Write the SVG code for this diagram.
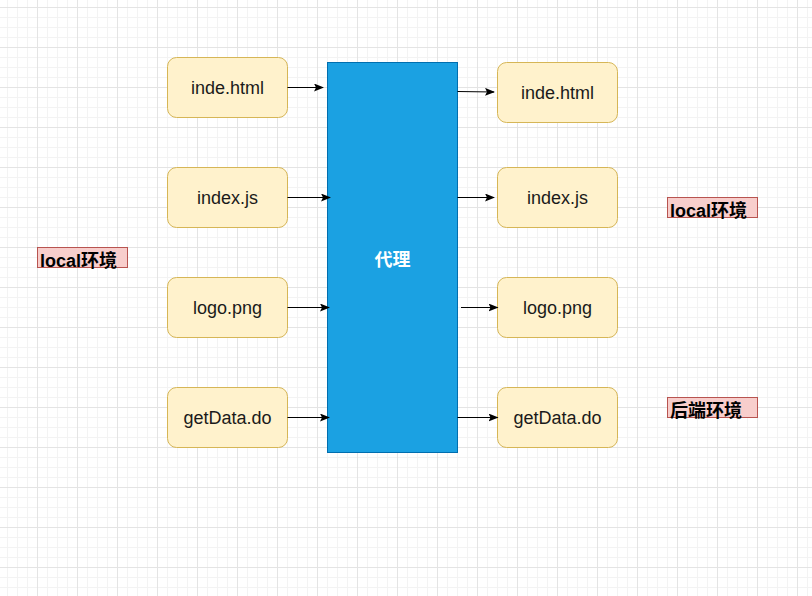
<svg xmlns="http://www.w3.org/2000/svg" width="812" height="596" viewBox="0 0 812 596">
<style>
.file rect{fill:#fff2cc;stroke:#d6b656;stroke-width:1}
.file text{font-family:"Liberation Sans","Noto Sans CJK SC",sans-serif;font-size:18px;fill:#1a1a1a;text-anchor:middle;dominant-baseline:central}
.tag rect{fill:#f8cecc;stroke:#b85450;stroke-width:1}
.tag text{font-family:"Liberation Sans","Noto Sans CJK SC",sans-serif;font-size:18px;font-weight:bold;fill:#000}
.conn line{stroke:#000;stroke-width:1;marker-end:url(#arr)}
</style>
<defs>
<pattern id="grid" x="-3" y="7" width="40" height="40" patternUnits="userSpaceOnUse">
<path d="M10.5 0V40M20.5 0V40M30.5 0V40M0 10.5H40M0 20.5H40M0 30.5H40" stroke="#f3f3f3" stroke-width="1" fill="none"/>
<path d="M0.5 0V40M0 0.5H40" stroke="#e4e4e4" stroke-width="1" fill="none"/>
</pattern>
<marker id="arr" viewBox="0 0 10 8" refX="9" refY="4" markerWidth="10" markerHeight="8" markerUnits="userSpaceOnUse" orient="auto">
<path d="M0 0L10 4L0 8L2 4Z" fill="#000"/>
</marker>
</defs>
<rect width="812" height="596" fill="#fff"/>
<rect width="812" height="596" fill="url(#grid)"/>

<g id="proxy">
<rect x="327.5" y="62.5" width="130" height="390" fill="#1ba1e2" stroke="#006eaf"/>
<text x="392.5" y="258" font-family="'Noto Sans CJK SC',sans-serif" font-size="18" font-weight="bold" fill="#fff" text-anchor="middle" dominant-baseline="central">代理</text>
</g>

<g id="l1" class="file"><rect x="167.5" y="57.5" width="120" height="60" rx="9"/><text x="227.5" y="87.5">inde.html</text></g>
<g id="l2" class="file"><rect x="167.5" y="167.5" width="120" height="60" rx="9"/><text x="227.5" y="197.5">index.js</text></g>
<g id="l3" class="file"><rect x="167.5" y="277.5" width="120" height="60" rx="9"/><text x="227.5" y="307.5">logo.png</text></g>
<g id="l4" class="file"><rect x="167.5" y="387.5" width="120" height="60" rx="9"/><text x="227.5" y="417.5">getData.do</text></g>

<g id="r1" class="file"><rect x="497.5" y="62.5" width="120" height="60" rx="9"/><text x="557.5" y="92.5">inde.html</text></g>
<g id="r2" class="file"><rect x="497.5" y="167.5" width="120" height="60" rx="9"/><text x="557.5" y="197.5">index.js</text></g>
<g id="r3" class="file"><rect x="497.5" y="277.5" width="120" height="60" rx="9"/><text x="557.5" y="307.5">logo.png</text></g>
<g id="r4" class="file"><rect x="497.5" y="387.5" width="120" height="60" rx="9"/><text x="557.5" y="417.5">getData.do</text></g>

<g id="tag1" class="tag"><rect x="37.5" y="247.5" width="90" height="20"/><text x="40" y="267">local环境</text></g>
<g id="tag2" class="tag"><rect x="667.5" y="197.5" width="90" height="20"/><text x="670" y="217">local环境</text></g>
<g id="tag3" class="tag"><rect x="667.5" y="397.5" width="90" height="20"/><text x="670" y="417">后端环境</text></g>

<g id="connectors" class="conn">
<line x1="287.5" y1="87.5" x2="323" y2="87.5"/>
<line x1="287.5" y1="197.5" x2="330" y2="197.5"/>
<line x1="287.5" y1="307.5" x2="329" y2="307.5"/>
<line x1="287.5" y1="417.5" x2="329" y2="417.5"/>
<line x1="457.5" y1="91.5" x2="494" y2="92"/>
<line x1="457.5" y1="197.5" x2="494" y2="197.5"/>
<line x1="461" y1="307.5" x2="497.5" y2="307.5"/>
<line x1="457.5" y1="417.5" x2="497.5" y2="417.5"/>
</g>
</svg>
